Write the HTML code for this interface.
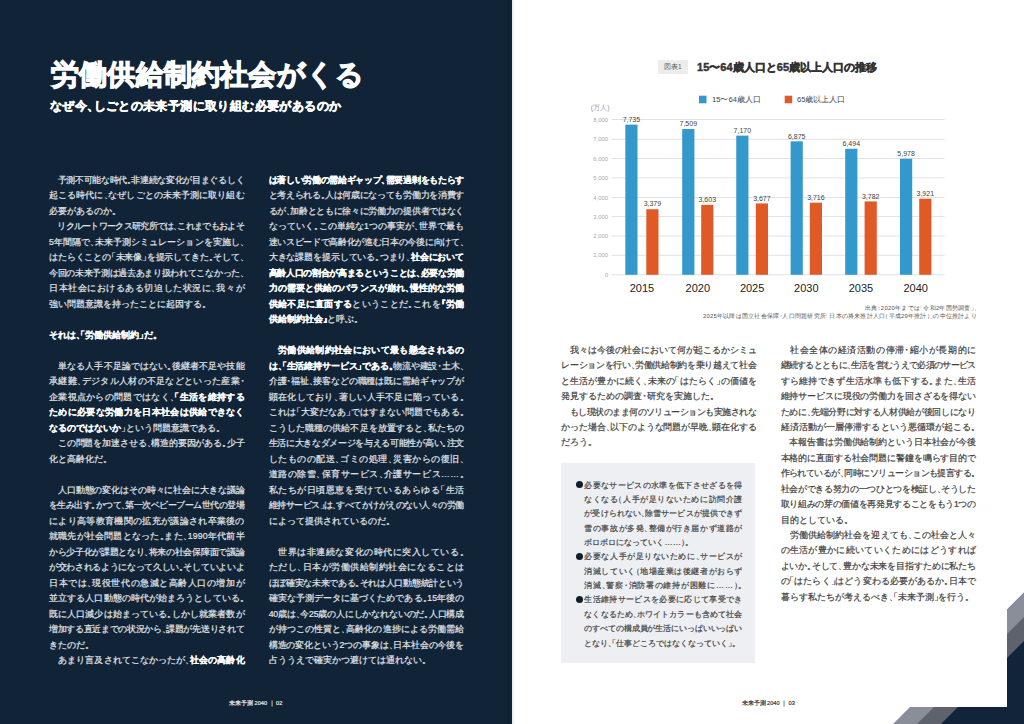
<!DOCTYPE html>
<html lang="ja"><head><meta charset="utf-8"><title>未来予測2040</title>
<style>
*{margin:0;padding:0;box-sizing:border-box}
html,body{width:1024px;height:724px;overflow:hidden;background:#fff}
body{position:relative;font-family:"Liberation Sans",sans-serif}
#lp{position:absolute;left:0;top:0;width:512px;height:724px;background:#112437}
#gut{position:absolute;left:507.5px;top:0;width:1px;height:724px;background:#0d1f2f}
#rg{position:absolute;left:512px;top:0;width:3px;height:724px;background:linear-gradient(90deg,#e4e8ec,#fff)}
.col{position:absolute;top:0;height:724px}
.ln{position:absolute;left:0;white-space:nowrap;height:15.5px;line-height:15.5px;font-size:8.7px;letter-spacing:var(--ls,0px);-webkit-text-stroke:.2px currentColor}
.ln b{font-weight:bold;-webkit-text-stroke:.15px currentColor}
i{font-style:normal}
i.t{margin-right:-.5em}
i.d{margin-left:-.5em}
i.m{margin:0 -.25em}
.dk{color:#e3e6ea}
.dk b{color:#fff}
.lt{color:#3e3e3e;height:15.43px;line-height:15.43px}
.bx{color:#444;height:14.37px;line-height:14.37px;font-size:8.3px}
.bul{position:absolute;left:-8.5px;width:7.3px;height:7.3px;margin-top:3.6px;border-radius:50%;background:#0f1e2b}
.abs{position:absolute;white-space:nowrap}
#title{left:51px;top:56.2px;font-size:28.4px;line-height:36px;font-weight:bold;color:#fff;-webkit-text-stroke:1.2px #fff}
#sub{left:50px;top:97px;font-size:12.2px;line-height:18px;font-weight:bold;color:#fff;-webkit-text-stroke:.5px #fff}
#box{position:absolute;left:560.7px;top:463.2px;width:194.5px;height:199.5px;background:#eeeff2}
.foot{font-size:5.6px;line-height:8px;-webkit-text-stroke:.2px currentColor}
</style></head><body>
<div id="lp"></div><div id="gut"></div><div id="rg"></div>
<div class="abs" id="title" style="letter-spacing: 0.2px;">労働供給制約社会がくる</div>
<div class="abs" id="sub" style="letter-spacing: 0.395px;">なぜ今<i class="t">、</i>しごとの未来予測に取り組む必要があるのか</div>
<div id="box"></div>
<div class="col" style="left:49.00px;width:195.50px;"><div class="ln dk" style="top: 172.85px; --ls: -0.325px;"><span>　予測不可能な時代<i class="t">。</i>非連続な変化が目まぐるしく</span></div>
<div class="ln dk" style="top: 188.35px; --ls: 0.088px;"><span>起こる時代に<i class="t">、</i>なぜしごとの未来予測に取り組む</span></div>
<div class="ln dk" style="top: 203.85px; --ls: 0.000px;"><span>必要があるのか<i class="t">。</i></span></div>
<div class="ln dk" style="top: 219.35px; --ls: -0.702px;"><span>　リクルートワークス研究所では<i class="t">、</i>これまでもおよそ</span></div>
<div class="ln dk" style="top: 234.85px; --ls: 0.061px;"><span>5年間隔で<i class="t">、</i>未来予測シミュレーションを実施し<i class="t">、</i></span></div>
<div class="ln dk" style="top: 250.35px; --ls: -0.136px;"><span>はたらくことの<i class="d">「</i>未来像<i class="t">」</i>を提示してきた<i class="t">。</i>そして<i class="t">、</i></span></div>
<div class="ln dk" style="top: 265.85px; --ls: -0.325px;"><span>今回の未来予測は過去あまり扱われてこなかった<i class="t">、</i></span></div>
<div class="ln dk" style="top: 281.35px; --ls: 0.542px;"><span>日本社会におけるある切迫した状況に<i class="t">、</i>我々が</span></div>
<div class="ln dk" style="top: 296.85px; --ls: 0.000px;"><span>強い問題意識を持ったことに起因する<i class="t">。</i></span></div>
<div class="ln dk" style="top: 327.85px; --ls: 0.000px;"><span><b>それは<i class="t">、</i><i class="d">「</i>労働供給制約<i class="t">」</i>だ<i class="t">。</i></b></span></div>
<div class="ln dk" style="top: 358.85px; --ls: 0.088px;"><span>　単なる人手不足論ではない<i class="t">。</i>後継者不足や技能</span></div>
<div class="ln dk" style="top: 374.35px; --ls: 0.295px;"><span>承継難<i class="t">、</i>デジタル人材の不足などといった産業<i class="m">・</i></span></div>
<div class="ln dk" style="top: 389.85px; --ls: 0.295px;"><span>企業視点からの問題ではなく<i class="t">、</i><b><i class="d">「</i>生活を維持する</b></span></div>
<div class="ln dk" style="top: 405.35px; --ls: 0.325px;"><span><b>ために必要な労働力を日本社会は供給できなく</b></span></div>
<div class="ln dk" style="top: 420.85px; --ls: 0.000px;"><span><b>なるのではないか</b><i class="t">」</i>という問題意識である<i class="t">。</i></span></div>
<div class="ln dk" style="top: 436.35px; --ls: -0.128px;"><span>　この問題を加速させる<i class="t">、</i>構造的要因がある<i class="t">。</i>少子</span></div>
<div class="ln dk" style="top: 451.85px; --ls: 0.000px;"><span>化と高齢化だ<i class="t">。</i></span></div>
<div class="ln dk" style="top: 482.85px; --ls: -0.119px;"><span>　人口動態の変化はその時々に社会に大きな議論</span></div>
<div class="ln dk" style="top: 498.35px; --ls: -0.514px;"><span>を生み出す<i class="t">。</i>かつて<i class="t">、</i>第一次ベビーブーム世代の登場</span></div>
<div class="ln dk" style="top: 513.85px; --ls: 0.325px;"><span>により高等教育機関の拡充が議論され卒業後の</span></div>
<div class="ln dk" style="top: 529.35px; --ls: 0.211px;"><span>就職先が社会問題となった<i class="t">。</i>また<i class="t">、</i>1990年代前半</span></div>
<div class="ln dk" style="top: 544.85px; --ls: -0.325px;"><span>から少子化が課題となり<i class="t">、</i>将来の社会保障面で議論</span></div>
<div class="ln dk" style="top: 560.35px; --ls: -0.325px;"><span>が交わされるようになって久しい<i class="t">。</i>そしていよいよ</span></div>
<div class="ln dk" style="top: 575.85px; --ls: 0.542px;"><span>日本では<i class="t">、</i>現役世代の急減と高齢人口の増加が</span></div>
<div class="ln dk" style="top: 591.35px; --ls: 0.088px;"><span>並立する人口動態の時代が始まろうとしている<i class="t">。</i></span></div>
<div class="ln dk" style="top: 606.85px; --ls: 0.088px;"><span>既に人口減少は始まっている<i class="t">。</i>しかし就業者数が</span></div>
<div class="ln dk" style="top: 622.35px; --ls: -0.325px;"><span>増加する直近までの状況から<i class="t">、</i>課題が先送りされて</span></div>
<div class="ln dk" style="top: 637.85px; --ls: 0.000px;"><span>きたのだ<i class="t">。</i></span></div>
<div class="ln dk" style="top: 653.35px; --ls: 0.088px;"><span>　あまり言及されてこなかったが<i class="t">、</i><b>社会の高齢化</b></span></div></div>
<div class="col" style="left:268.70px;width:195.50px;"><div class="ln dk" style="top: 172.85px; --ls: -0.325px;"><span><b>は著しい労働の需給ギャップ<i class="t">、</i>需要過剰をもたらす</b></span></div>
<div class="ln dk" style="top: 188.35px; --ls: -0.325px;"><span>と考えられる<i class="t">。</i>人は何歳になっても労働力を消費す</span></div>
<div class="ln dk" style="top: 203.85px; --ls: -0.325px;"><span>るが<i class="t">、</i>加齢とともに徐々に労働力の提供者ではなく</span></div>
<div class="ln dk" style="top: 219.35px; --ls: 0.061px;"><span>なっていく<i class="t">。</i>この単純な1つの事実が<i class="t">、</i>世界で最も</span></div>
<div class="ln dk" style="top: 234.85px; --ls: -0.325px;"><span>速いスピードで高齢化が進む日本の今後に向けて<i class="t">、</i></span></div>
<div class="ln dk" style="top: 250.35px; --ls: -0.128px;"><span>大きな課題を提示している<i class="t">。</i>つまり<i class="t">、</i><b>社会において</b></span></div>
<div class="ln dk" style="top: 265.85px; --ls: -0.325px;"><span><b>高齢人口の割合が高まるということは<i class="t">、</i>必要な労働</b></span></div>
<div class="ln dk" style="top: 281.35px; --ls: 0.088px;"><span><b>力の需要と供給のバランスが崩れ<i class="t">、</i>慢性的な労働</b></span></div>
<div class="ln dk" style="top: 296.85px; --ls: 0.295px;"><span><b>供給不足に直面する</b>ということだ<i class="t">。</i>これを<b><i class="d">『</i>労働</b></span></div>
<div class="ln dk" style="top: 312.35px; --ls: 0.000px;"><span><b>供給制約社会<i class="t">』</i></b>と呼ぶ<i class="t">。</i></span></div>
<div class="ln dk" style="top: 343.35px; --ls: 0.325px;"><span><b>　労働供給制約社会において最も懸念されるの</b></span></div>
<div class="ln dk" style="top: 358.85px; --ls: -0.143px;"><span><b>は<i class="t">、</i><i class="d">「</i>生活維持サービス<i class="t">」</i>である<i class="t">。</i></b>物流や建設<i class="m">・</i>土木<i class="t">、</i></span></div>
<div class="ln dk" style="top: 374.35px; --ls: -0.128px;"><span>介護<i class="m">・</i>福祉<i class="t">、</i>接客などの職種は既に需給ギャップが</span></div>
<div class="ln dk" style="top: 389.85px; --ls: 0.295px;"><span>顕在化しており<i class="t">、</i>著しい人手不足に陥っている<i class="t">。</i></span></div>
<div class="ln dk" style="top: 405.35px; --ls: 0.070px;"><span>これは<i class="d">「</i>大変だなあ<i class="t">」</i>ではすまない問題でもある<i class="t">。</i></span></div>
<div class="ln dk" style="top: 420.85px; --ls: 0.088px;"><span>こうした職種の供給不足を放置すると<i class="t">、</i>私たちの</span></div>
<div class="ln dk" style="top: 436.35px; --ls: -0.325px;"><span>生活に大きなダメージを与える可能性が高い<i class="t">。</i>注文</span></div>
<div class="ln dk" style="top: 451.85px; --ls: 0.501px;"><span>したものの配送<i class="t">、</i>ゴミの処理<i class="t">、</i>災害からの復旧<i class="t">、</i></span></div>
<div class="ln dk" style="top: 467.35px; --ls: 0.531px;"><span>道路の除雪<i class="t">、</i>保育サービス<i class="t">、</i>介護サービス……<i class="t">。</i></span></div>
<div class="ln dk" style="top: 482.85px; --ls: 0.542px;"><span>私たちが日頃恩恵を受けているあらゆる<i class="d">「</i>生活</span></div>
<div class="ln dk" style="top: 498.35px; --ls: -0.514px;"><span>維持サービス<i class="t">」</i>は<i class="t">、</i>すべてかけがえのない人々の労働</span></div>
<div class="ln dk" style="top: 513.85px; --ls: 0.000px;"><span>によって提供されているのだ<i class="t">。</i></span></div>
<div class="ln dk" style="top: 544.85px; --ls: 0.542px;"><span>　世界は非連続な変化の時代に突入している<i class="t">。</i></span></div>
<div class="ln dk" style="top: 560.35px; --ls: 0.542px;"><span>ただし<i class="t">、</i>日本が労働供給制約社会になることは</span></div>
<div class="ln dk" style="top: 575.85px; --ls: -0.325px;"><span>ほぼ確実な未来である<i class="t">。</i>それは人口動態統計という</span></div>
<div class="ln dk" style="top: 591.35px; --ls: 0.053px;"><span>確実な予測データに基づくためである<i class="t">。</i>15年後の</span></div>
<div class="ln dk" style="top: 606.85px; --ls: -0.173px;"><span>40歳は<i class="t">、</i>今25歳の人にしかなれないのだ<i class="t">。</i>人口構成</span></div>
<div class="ln dk" style="top: 622.35px; --ls: 0.088px;"><span>が持つこの性質と<i class="t">、</i>高齢化の進捗による労働需給</span></div>
<div class="ln dk" style="top: 637.85px; --ls: -0.136px;"><span>構造の変化という2つの事象は<i class="t">、</i>日本社会の今後を</span></div>
<div class="ln dk" style="top: 653.35px; --ls: 0.000px;"><span>占ううえで確実かつ避けては通れない<i class="t">。</i></span></div></div>
<div class="col" style="left:561.20px;width:195.60px;"><div class="ln lt" style="top: 342.9px; --ls: -0.114px;"><span>　我々は今後の社会において何が起こるかシミュ</span></div>
<div class="ln lt" style="top: 358.33px; --ls: -0.321px;"><span>レーションを行い<i class="t">、</i>労働供給制約を乗り越えて社会</span></div>
<div class="ln lt" style="top: 373.76px; --ls: 0.074px;"><span>と生活が豊かに続く<i class="t">、</i>未来の<i class="d">「</i>はたらく<i class="t">」</i>の価値を</span></div>
<div class="ln lt" style="top: 389.19px; --ls: 0.000px;"><span>発見するための調査<i class="m">・</i>研究を実施した<i class="t">。</i></span></div>
<div class="ln lt" style="top: 404.62px; --ls: -0.518px;"><span>　もし現状のまま何のソリューションも実施されな</span></div>
<div class="ln lt" style="top: 420.05px; --ls: -0.123px;"><span>かった場合<i class="t">、</i>以下のような問題が早晩<i class="t">、</i>顕在化する</span></div>
<div class="ln lt" style="top: 435.48px; --ls: 0.000px;"><span>だろう<i class="t">。</i></span></div></div>
<div class="col" style="left:780.50px;width:195.60px;"><div class="ln lt" style="top: 342.9px; --ls: 0.547px;"><span>　社会全体の経済活動の停滞<i class="m">・</i>縮小が長期的に</span></div>
<div class="ln lt" style="top: 358.33px; --ls: -0.698px;"><span>継続するとともに<i class="t">、</i>生活を営むうえで必須のサービス</span></div>
<div class="ln lt" style="top: 373.76px; --ls: 0.299px;"><span>すら維持できず生活水準も低下する<i class="t">。</i>また<i class="t">、</i>生活</span></div>
<div class="ln lt" style="top: 389.19px; --ls: -0.114px;"><span>維持サービスに現役の労働力を回さざるを得ない</span></div>
<div class="ln lt" style="top: 404.62px; --ls: -0.321px;"><span>ために<i class="t">、</i>先端分野に対する人材供給が後回しになり</span></div>
<div class="ln lt" style="top: 420.05px; --ls: 0.093px;"><span>経済活動が一層停滞するという悪循環が起こる<i class="t">。</i></span></div>
<div class="ln lt" style="top: 435.48px; --ls: -0.114px;"><span>　本報告書は労働供給制約という日本社会が今後</span></div>
<div class="ln lt" style="top: 450.91px; --ls: -0.114px;"><span>本格的に直面する社会問題に警鐘を鳴らす目的で</span></div>
<div class="ln lt" style="top: 466.34px; --ls: -0.509px;"><span>作られているが<i class="t">、</i>同時にソリューションも提言する<i class="t">。</i></span></div>
<div class="ln lt" style="top: 481.77px; --ls: -0.321px;"><span>社会ができる努力の一つひとつを検証し<i class="t">、</i>そうした</span></div>
<div class="ln lt" style="top: 497.2px; --ls: -0.329px;"><span>取り組みの芽の価値を再発見することをもう1つの</span></div>
<div class="ln lt" style="top: 512.63px; --ls: 0.000px;"><span>目的としている<i class="t">。</i></span></div>
<div class="ln lt" style="top: 528.06px; --ls: 0.093px;"><span>　労働供給制約社会を迎えても<i class="t">、</i>この社会と人々</span></div>
<div class="ln lt" style="top: 543.49px; --ls: 0.330px;"><span>の生活が豊かに続いていくためにはどうすれば</span></div>
<div class="ln lt" style="top: 558.92px; --ls: -0.123px;"><span>よいか<i class="t">。</i>そして<i class="t">、</i>豊かな未来を目指すために私たち</span></div>
<div class="ln lt" style="top: 574.35px; --ls: 0.074px;"><span>の<i class="d">「</i>はたらく<i class="t">」</i>はどう変わる必要があるか<i class="t">。</i>日本で</span></div>
<div class="ln lt" style="top: 589.78px; --ls: 0.000px;"><span>暮らす私たちが考えるべき<i class="t">、</i><i class="d">「</i>未来予測<i class="t">」</i>を行う<i class="t">。</i></span></div></div>
<div class="col" style="left:584.40px;width:157.80px;"><div class="bul" style="top:477.50px"></div>
<div class="ln bx" style="top: 477.5px; --ls: 0.322px;"><span>必要なサービスの水準を低下させざるを得</span></div>
<div class="ln bx" style="top: 491.87px; --ls: 0.552px;"><span>なくなる<i class="d">（</i>人手が足りないために訪問介護</span></div>
<div class="ln bx" style="top: 506.24px; --ls: 0.102px;"><span>が受けられない<i class="t">、</i>除雪サービスが提供できず</span></div>
<div class="ln bx" style="top: 520.61px; --ls: 0.552px;"><span>雪の事故が多発<i class="t">、</i>整備が行き届かず道路が</span></div>
<div class="ln bx" style="top: 534.98px; --ls: 0.000px;"><span>ボロボロになっていく……<i class="t">）</i><i class="t">。</i></span></div>
<div class="bul" style="top:549.35px"></div>
<div class="ln bx" style="top: 549.35px; --ls: 0.552px;"><span>必要な人手が足りないために<i class="t">、</i>サービスが</span></div>
<div class="ln bx" style="top: 563.72px; --ls: 0.552px;"><span>消滅していく<i class="d">（</i>地場産業は後継者がおらず</span></div>
<div class="ln bx" style="top: 578.09px; --ls: 0.724px;"><span>消滅<i class="t">、</i>警察<i class="m">・</i>消防署の維持が困難に……<i class="t">）</i><i class="t">。</i></span></div>
<div class="bul" style="top:592.46px"></div>
<div class="ln bx" style="top: 592.46px; --ls: 0.322px;"><span>生活維持サービスを必要に応じて享受でき</span></div>
<div class="ln bx" style="top: 606.83px; --ls: 0.102px;"><span>なくなるため<i class="t">、</i>ホワイトカラーも含めて社会</span></div>
<div class="ln bx" style="top: 621.2px; --ls: -0.116px;"><span>のすべての構成員が生活にいっぱいいっぱい</span></div>
<div class="ln bx" style="top: 635.57px; --ls: 0.000px;"><span>となり<i class="t">、</i><i class="d">「</i>仕事どころではなくなっていく<i class="t">」</i><i class="t">。</i></span></div></div>
<div class="abs foot" style="left:229px;top:699px;color:#e6e9ee">未来予測 2040 ｜ 02</div>
<div class="abs foot" style="left:741.5px;top:699px;color:#3a3a3a">未来予測 2040 ｜ 03</div>

<!-- chart -->
<div class="abs" style="left:657.8px;top:60px;width:30px;height:13.6px;background:#ededed;color:#555;font-size:6.5px;line-height:13.6px;text-align:center">図表1</div>
<div class="abs" style="left: 697px; top: 59px; font-size: 11px; line-height: 16px; font-weight: bold; color: rgb(51, 51, 51); -webkit-text-stroke: 0.45px rgb(51, 51, 51); letter-spacing: 0.038px;">15〜64歳人口と65歳以上人口の推移</div>
<svg class="abs" style="left:0;top:0" width="1024" height="724" viewBox="0 0 1024 724">
<g stroke="#e2e2e2" stroke-width="1">
<line x1="611.5" x2="944.6" y1="119.5" y2="119.5"></line>
<line x1="611.5" x2="944.6" y1="139.3" y2="139.3"></line>
<line x1="611.5" x2="944.6" y1="158.5" y2="158.5"></line>
<line x1="611.5" x2="944.6" y1="177.9" y2="177.9"></line>
<line x1="611.5" x2="944.6" y1="197.5" y2="197.5"></line>
<line x1="611.5" x2="944.6" y1="216.6" y2="216.6"></line>
<line x1="611.5" x2="944.6" y1="236.1" y2="236.1"></line>
<line x1="611.5" x2="944.6" y1="255.3" y2="255.3"></line>
<line x1="611.5" x2="944.6" y1="274.8" y2="274.8"></line>
</g>
<rect x="699" y="95.7" width="7.5" height="7.6" fill="#3399cc"></rect>
<rect x="784.7" y="95.7" width="7.5" height="7.6" fill="#e05a28"></rect>
<rect x="625.30" y="124.64" width="12.20" height="150.16" fill="#3399cc"></rect>
<rect x="646.30" y="209.21" width="12.20" height="65.59" fill="#e05a28"></rect>
<rect x="682.20" y="129.03" width="12.20" height="145.77" fill="#3399cc"></rect>
<rect x="701.20" y="204.86" width="12.20" height="69.94" fill="#e05a28"></rect>
<rect x="736.25" y="135.61" width="12.20" height="139.19" fill="#3399cc"></rect>
<rect x="755.80" y="203.42" width="12.20" height="71.38" fill="#e05a28"></rect>
<rect x="790.60" y="141.34" width="12.20" height="133.46" fill="#3399cc"></rect>
<rect x="809.80" y="202.66" width="12.20" height="72.14" fill="#e05a28"></rect>
<rect x="845.20" y="148.74" width="12.20" height="126.06" fill="#3399cc"></rect>
<rect x="864.60" y="201.38" width="12.20" height="73.42" fill="#e05a28"></rect>
<rect x="900.00" y="158.75" width="12.20" height="116.05" fill="#3399cc"></rect>
<rect x="919.20" y="198.68" width="12.20" height="76.12" fill="#e05a28"></rect>
<g fill="#aaa" font-size="6" text-anchor="end" font-family="Liberation Sans, sans-serif">
<text x="608.2" y="276.90">0</text>
<text x="608.2" y="257.40">1,000</text>
<text x="608.2" y="238.20">2,000</text>
<text x="608.2" y="218.70">3,000</text>
<text x="608.2" y="199.60">4,000</text>
<text x="608.2" y="180.00">5,000</text>
<text x="608.2" y="160.60">6,000</text>
<text x="608.2" y="141.40">7,000</text>
<text x="608.2" y="121.60">8,000</text>
</g>
<g fill="#222" font-size="11" text-anchor="middle" font-family="Liberation Sans, sans-serif">
<text x="641.90" y="291.80">2015</text>
<text x="697.80" y="291.80">2020</text>
<text x="752.12" y="291.80">2025</text>
<text x="806.30" y="291.80">2030</text>
<text x="861.00" y="291.80">2035</text>
<text x="915.70" y="291.80">2040</text>
</g>
<g fill="#444" font-size="7" text-anchor="middle" font-family="Liberation Sans, sans-serif">
<text x="631.40" y="121.84">7,735</text>
<text x="652.40" y="206.41">3,379</text>
<text x="688.30" y="126.23">7,509</text>
<text x="707.30" y="202.06">3,603</text>
<text x="742.35" y="132.81">7,170</text>
<text x="761.90" y="200.62">3,677</text>
<text x="796.70" y="138.54">6,875</text>
<text x="815.90" y="199.86">3,716</text>
<text x="851.30" y="145.94">6,494</text>
<text x="870.70" y="198.58">3,782</text>
<text x="906.10" y="155.95">5,978</text>
<text x="925.30" y="195.88">3,921</text>
</g>
<defs><clipPath id="cl"><path d="M1007 609 L1024 592 L1024 724 L893 724 L910 707 L1007 707 Z"></path></clipPath></defs>
<g clip-path="url(#cl)">
<polygon points="892,724 1024,592 1024,724" fill="#8a8e98"></polygon>
<polygon points="917,724 1024,617 1024,724" fill="#5d626c"></polygon>
<polygon points="941,724 1024,641 1024,724" fill="#12243a"></polygon>
</g>
</svg>
<div class="abs" style="left: 712px; top: 94.5px; font-size: 7.6px; line-height: 10px; color: rgb(68, 68, 68); letter-spacing: 0.013px;">15〜64歳人口</div>
<div class="abs" style="left: 797px; top: 94.5px; font-size: 7.6px; line-height: 10px; color: rgb(68, 68, 68); letter-spacing: -0.076px;">65歳以上人口</div>
<div class="abs" style="left:590.8px;top:103px;font-size:7px;line-height:9px;color:#999">(万人)</div>
<div class="abs" style="left: 865px; top: 304px; font-size: 5.9px; line-height: 8px; color: rgb(85, 85, 85); letter-spacing: 0.258px;">出典<i class="m">：</i>2020年までは<i class="d">「</i>令和2年国勢調査<i class="t">」</i><i class="t">、</i></div>
<div class="abs" style="left: 703px; top: 312.4px; font-size: 5.9px; line-height: 8px; color: rgb(85, 85, 85); letter-spacing: 0.219px;">2025年以降は国立社会保障<i class="m">・</i>人口問題研究所<i class="d">「</i>日本の将来推計人口<i class="d">（</i>平成29年推計<i class="t">）</i><i class="t">」</i>の中位推計より</div>

</body></html>
